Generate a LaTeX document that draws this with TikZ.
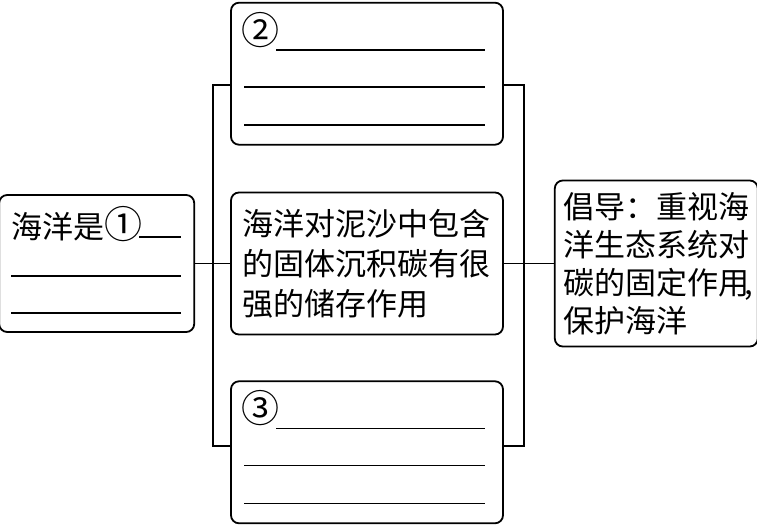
\documentclass[tikz,border=0pt]{standalone}
\usepackage{fontspec}
\setmainfont{Noto Sans CJK SC}
\usetikzlibrary{positioning,calc}
\tikzset{
  panel/.style={draw, rounded corners=4pt, line width=0.9pt, inner sep=0pt,
                align=left, font=\fontsize{15.5}{20}\selectfont},
  midpanel/.style={panel, minimum width=136pt, minimum height=71pt},
  leftpanel/.style={panel, minimum width=97.5pt, minimum height=68.5pt},
  sidepanel/.style={panel, minimum width=101.5pt, minimum height=83pt},
  hint/.style={inner sep=0pt, anchor=west, font=\fontsize{15.5}{20}\selectfont},
  blankline/.style={line width=0.8pt},
  wire/.style={line width=0.7pt}
}
\newcommand{\circnum}[1]{{\fontsize{19}{20}\selectfont #1}}

\begin{document}
\begin{tikzpicture}[node distance=23pt and 17.5pt]
  \useasboundingbox (-183.5pt,-131.25pt) rectangle (195pt,131.75pt);
  \node[midpanel] (M) at (0,0) {海洋对泥沙中包含\\的固体沉积碳有很\\强的储存作用};
  \node[midpanel, above=of M] (T) {};
  \node[midpanel, below=22.5pt of M] (B) {};
  \node[leftpanel, left=of M] (L) {};
  \node[sidepanel, right=25pt of M, font=\fontsize{15.5}{19}\selectfont] (R)
    {倡导：重视海\\洋生态系统对\\碳的固定作用\rlap{\kern-0.15em,}\\保护海洋};

  % blanks to fill in
  \node[hint] (L-mark) at ($(L.north west)+(6.5pt,-15pt)$) {海洋是\circnum{①}};
  \draw[blankline] ($(L.north west)+(70.5pt,-21.5pt)$) -- ++(21pt,0);
  \draw[blankline] ($(L.north west)+(6.5pt,-41pt)$) -- ++(85pt,0);
  \draw[blankline] ($(L.north west)+(6.5pt,-59.5pt)$) -- ++(85pt,0);
  \foreach \pane/\mark in {T/②, B/③} {
    \node[hint] (\pane-mark) at ($(\pane.north west)+(5.5pt,-14pt)$) {\circnum{\mark}};
    \draw[blankline] ($(\pane.north west)+(23pt,-24pt)$) -- ++(104.5pt,0);
    \draw[blankline] ($(\pane.north west)+(7pt,-42.5pt)$) -- ++(120.5pt,0);
    \draw[blankline] ($(\pane.north west)+(7pt,-61.5pt)$) -- ++(120.5pt,0);
  }

  % brackets
  \coordinate (lt) at (-77pt,89.25pt);
  \coordinate (lb) at (-77pt,-91.25pt);
  \coordinate (rt) at (78.5pt,89.25pt);
  \coordinate (rb) at (78.5pt,-91.25pt);
  \draw[wire] (lt -| T.west) -- (lt) -- (lb) -- (lb -| B.west);
  \draw[wire] (rt -| T.east) -- (rt) -- (rb) -- (rb -| B.east);
  \draw[wire] (L.east) -- (M.west);
  \draw[wire] (M.east) -- (R.west);
\end{tikzpicture}
\end{document}
